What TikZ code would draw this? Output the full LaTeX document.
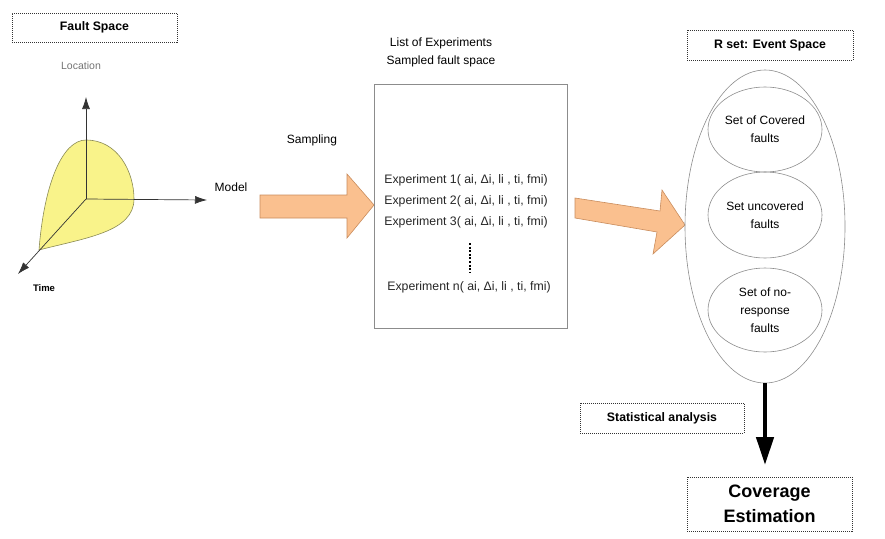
\documentclass[tikz,border=0pt]{standalone}
\usepackage{fontspec}
\setmainfont{Liberation Sans}
\usetikzlibrary{shapes.geometric,arrows.meta}
\definecolor{peach}{HTML}{FAC08F}
\definecolor{peachline}{HTML}{C98C5C}
\definecolor{lemon}{HTML}{F9F38A}
\definecolor{oliveline}{HTML}{8A8A55}
\definecolor{ellgray}{HTML}{8C8C8C}
\begin{document}
\begin{tikzpicture}[x=1pt,y=-1pt,
  dotbox/.style={draw=black!80, dash pattern=on 1pt off 1pt, line width=1pt,
    font=\bfseries\fontsize{12.3}{14}\selectfont, inner sep=0pt},
  lbl/.style={font=\fontsize{12}{14}\selectfont, inner sep=0pt},
  exptext/.style={font=\fontsize{12.3}{14}\selectfont, text=black!85, inner sep=0pt},
  setell/.style={draw=ellgray, line width=0.6pt, ellipse, inner sep=0pt, align=center,
    font=\fontsize{12}{18}\selectfont},
  bigarrow/.style={fill=peach, draw=peachline, line width=0.6pt, line join=miter},
  axis/.style={draw=black!80, line width=0.7pt, -{Latex[length=12pt,width=8pt]}}
]
\path[use as bounding box] (0,0) rectangle (885,538);

% Fault space
\node[dotbox, minimum width=165pt, minimum height=29pt] (fs) at (94.5,27.5) {Fault Space};
\node[lbl, text=black!55, font=\fontsize{10.5}{12}\selectfont] (loc) at (81,66) {Location};

\fill[lemon] (39,250) .. controls (44,185) and (62,140) .. (86,140)
  .. controls (118,140) and (134,172) .. (134,199)
  .. controls (134,232) and (85,238) .. cycle;
\draw[oliveline, line width=0.6pt] (39,250) .. controls (44,185) and (62,140) .. (86,140)
  .. controls (118,140) and (134,172) .. (134,199)
  .. controls (134,232) and (85,238) .. cycle;

\coordinate (o) at (86,199);
\coordinate (up) at (86,97);
\coordinate (rt) at (207,200);
\coordinate (tm) at (18,274);
\draw[axis] (o) -- (up);
\draw[axis] (o) -- (rt);
\draw[axis] (o) -- (tm);

\node[lbl] (model) at (231,187) {Model};
\node[lbl, font=\bfseries\fontsize{9.5}{11}\selectfont] (time) at (44,288) {Time};

% Sampling arrow
\node[lbl] (samp) at (312,140) {Sampling};
\draw[bigarrow] (260,195) -- (347,195) -- (347,174) -- (374,205) -- (347,238) -- (347,218) -- (260,218) -- cycle;

% Experiments
\node[lbl, align=center, font=\fontsize{12}{18}\selectfont] (title) at (441,52) {List of Experiments\\Sampled fault space};
\node[draw=black!45, line width=0.8pt, minimum width=193pt, minimum height=244pt, inner sep=0pt] (box) at (470.5,206) {};
\node[exptext] (e1) at (466,180) {Experiment 1( ai, Δi, li , ti, fmi)};
\node[exptext] (e2) at (466,201) {Experiment 2( ai, Δi, li , ti, fmi)};
\node[exptext] (e3) at (466,222) {Experiment 3( ai, Δi, li , ti, fmi)};
\node[exptext] (en) at (469,287) {Experiment n( ai, Δi, li , ti, fmi)};
\coordinate (d1) at (470,243);
\coordinate (d2) at (470,272);
\draw[black, line width=2pt, dash pattern=on 2pt off 1.6pt] (d1) -- (d2);

% Second arrow
\draw[bigarrow] (575,198) -- (660,211) -- (662,190) -- (685,225) -- (653,254) -- (657,232) -- (575,218) -- cycle;

% Event space
\node[dotbox, minimum width=166pt, minimum height=30pt] (rset) at (770,45) {R set: Event Space};
\node[draw=ellgray, line width=0.6pt, ellipse, minimum width=160pt, minimum height=313pt, inner sep=0pt] (big) at (765,226.5) {};
\node[setell, minimum width=114pt, minimum height=85pt] (cov) at (765,129.5) {Set of Covered\\faults};
\node[setell, minimum width=114pt, minimum height=86pt] (unc) at (765,215) {Set uncovered\\faults};
\node[setell, minimum width=114pt, minimum height=84pt] (nor) at (765,310) {Set of no-\\response\\faults};

% Statistical analysis
\coordinate (arrend) at (765,465);
\draw[black, line width=4.5pt, -{Triangle[length=28pt,width=17pt]}] (big.south) -- (arrend);
\node[dotbox, minimum width=164pt, minimum height=30pt] (stat) at (662,418) {Statistical analysis};
\node[dotbox, minimum width=165pt, minimum height=54pt, align=center,
  font=\bfseries\fontsize{18}{25}\selectfont] (cove) at (769.5,504) {Coverage\\Estimation};
\end{tikzpicture}
\end{document}
